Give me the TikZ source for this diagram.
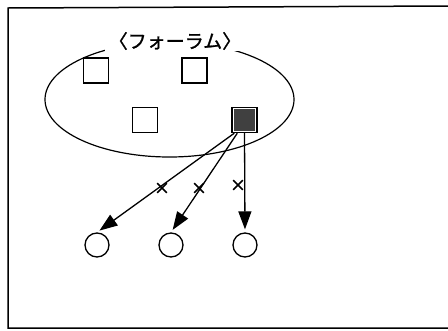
\documentclass[tikz,border=0pt]{standalone}
\usepackage{fontspec}
\newfontfamily\jpfont[FakeBold=1.2]{Noto Sans CJK JP}
\usetikzlibrary{arrows.meta,shapes.misc,shapes.geometric}
\begin{document}
\begin{tikzpicture}[x=1pt,y=-1pt,
  sq/.style={draw,line width=1.4pt,minimum size=25pt,inner sep=0pt},
  cir/.style={draw,line width=1.3pt,circle,minimum size=24pt,inner sep=0pt},
  arr/.style={line width=1.3pt,-{Triangle[length=18pt,width=13pt]},shorten >=3pt},
  xmark/.style={cross out,draw,line width=1.6pt,minimum size=8pt,inner sep=0pt}]
\useasboundingbox (0,0) rectangle (448,330);
% frame (right side runs off the page)
\draw[line width=1.5pt] (448,6) -- (8,8) -- (8,328) -- (448,328);
% forum ellipse
\node[draw,ellipse,line width=1.2pt,minimum width=249pt,minimum height=115pt,inner sep=0pt] (forum) at (169.5,99.5) {};
\node[fill=white,inner xsep=4pt,inner ysep=1pt,font=\jpfont\fontsize{19}{21}\selectfont] (label) at (175,41) {〈フォーラム〉};
% members
\node[sq] (s1) at (96,70.5) {};
\node[sq] (s2) at (194.5,70.5) {};
\node[sq] (s3) at (145,120) {};
\node[sq] (s4) at (244.5,120) {};
\fill[black!75] ([shift={(2.5,2.5)}]s4.north west) rectangle ([shift={(-2.5,-2.5)}]s4.south east);
% outsiders
\node[cir] (c1) at (97,245) {};
\node[cir] (c2) at (171,245) {};
\node[cir] (c3) at (245,245) {};
% arrows
\draw[arr] ([xshift=3pt]s4.south west) -- (c1.north);
\draw[arr] ([xshift=6pt]s4.south west) -- (c2.north);
\draw[arr] (s4.south) -- (c3.north);
% crosses
\node[xmark] (x1) at (162,188) {};
\node[xmark] (x2) at (199,188) {};
\node[xmark] (x3) at (238,185) {};
\end{tikzpicture}
\end{document}
